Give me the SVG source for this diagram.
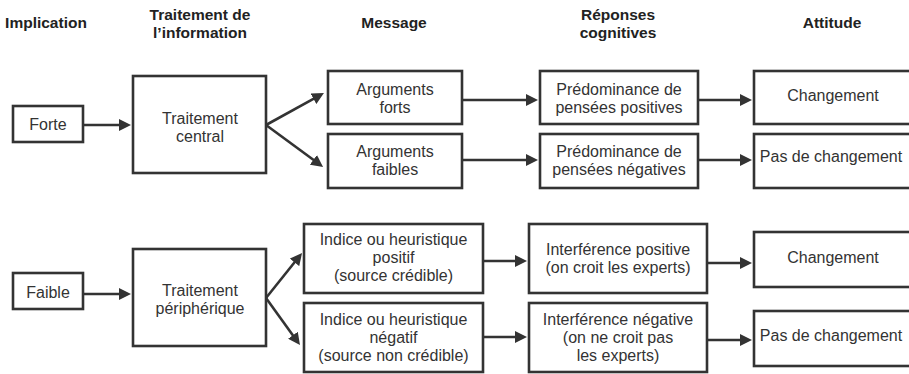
<svg xmlns="http://www.w3.org/2000/svg" width="909" height="374" viewBox="0 0 909 374">
<defs>
<style>
.box{fill:#fff;stroke:#333;stroke-width:2.6}
.t{font-family:"Liberation Sans",Arial,sans-serif;font-size:16px;fill:#333;text-anchor:middle}
.h{font-family:"Liberation Sans",Arial,sans-serif;font-size:15.5px;font-weight:bold;fill:#222;text-anchor:middle}
.c{stroke:#333;stroke-width:2.6;fill:none;marker-end:url(#ah)}
</style>
<marker id="ah" markerUnits="userSpaceOnUse" markerWidth="13" markerHeight="12" refX="2" refY="6" orient="auto">
<path d="M0,0 L12,6 L0,12 z" fill="#333"/>
</marker>
</defs>
<rect width="909" height="374" fill="#fff"/>
<g id="headers">
<text class="h" x="46" y="28">Implication</text>
<text class="h" x="200" y="20">Traitement de</text>
<text class="h" x="200" y="38">l’information</text>
<text class="h" x="394" y="28">Message</text>
<text class="h" x="618" y="20">Réponses</text>
<text class="h" x="618" y="38">cognitives</text>
<text class="h" x="832" y="28">Attitude</text>
</g>
<g id="connectors">
<line class="c" x1="83" y1="125" x2="121" y2="125"/>
<line class="c" x1="266" y1="125" x2="315.2" y2="97.8"/>
<line class="c" x1="266" y1="125" x2="315" y2="161"/>
<line class="c" x1="462" y1="100" x2="528" y2="100"/>
<line class="c" x1="462" y1="160" x2="528" y2="160"/>
<line class="c" x1="698" y1="100" x2="742" y2="100"/>
<line class="c" x1="698" y1="160" x2="742" y2="160"/>
<line class="c" x1="83" y1="294" x2="121" y2="294"/>
<line class="c" x1="266" y1="298" x2="295.8" y2="260.8"/>
<line class="c" x1="266" y1="298" x2="294.1" y2="336.9"/>
<line class="c" x1="483" y1="261" x2="517" y2="261"/>
<line class="c" x1="483" y1="337" x2="517" y2="337"/>
<line class="c" x1="707" y1="263" x2="742" y2="263"/>
<line class="c" x1="707" y1="340" x2="742" y2="340"/>
</g>
<g id="forte">
<rect class="box" x="13" y="106" width="70" height="36"/>
<text class="t" x="48" y="130">Forte</text>
</g>
<g id="traitement-central">
<rect class="box" x="133" y="76" width="133" height="97"/>
<text class="t" x="200" y="124">Traitement</text>
<text class="t" x="200" y="142">central</text>
</g>
<g id="arguments-forts">
<rect class="box" x="328" y="71" width="134" height="53"/>
<text class="t" x="395" y="95">Arguments</text>
<text class="t" x="395" y="113">forts</text>
</g>
<g id="arguments-faibles">
<rect class="box" x="328" y="134" width="134" height="54"/>
<text class="t" x="395" y="157">Arguments</text>
<text class="t" x="395" y="175">faibles</text>
</g>
<g id="predominance-positives">
<rect class="box" x="540" y="71" width="158" height="53"/>
<text class="t" x="619" y="95">Prédominance de</text>
<text class="t" x="619" y="113">pensées positives</text>
</g>
<g id="predominance-negatives">
<rect class="box" x="540" y="134" width="158" height="54"/>
<text class="t" x="619" y="157">Prédominance de</text>
<text class="t" x="619" y="175">pensées négatives</text>
</g>
<g id="changement-1">
<rect class="box" x="754" y="71" width="157" height="53"/>
<text class="t" x="833" y="101">Changement</text>
</g>
<g id="pas-changement-1">
<rect class="box" x="754" y="134" width="157" height="54"/>
<text class="t" x="831" y="162">Pas de changement</text>
</g>
<g id="faible">
<rect class="box" x="13" y="273" width="70" height="36"/>
<text class="t" x="48" y="298">Faible</text>
</g>
<g id="traitement-peripherique">
<rect class="box" x="133" y="249" width="133" height="97"/>
<text class="t" x="200" y="296">Traitement</text>
<text class="t" x="200" y="314">périphérique</text>
</g>
<g id="indice-positif">
<rect class="box" x="304" y="224" width="179" height="69"/>
<text class="t" x="393.5" y="245">Indice ou heuristique</text>
<text class="t" x="393.5" y="263">positif</text>
<text class="t" x="393.5" y="281">(source crédible)</text>
</g>
<g id="indice-negatif">
<rect class="box" x="304" y="303" width="179" height="69"/>
<text class="t" x="393.5" y="325">Indice ou heuristique</text>
<text class="t" x="393.5" y="343">négatif</text>
<text class="t" x="393.5" y="361">(source non crédible)</text>
</g>
<g id="interference-positive">
<rect class="box" x="529" y="224" width="178" height="69"/>
<text class="t" x="618" y="255">Interférence positive</text>
<text class="t" x="618" y="273">(on croit les experts)</text>
</g>
<g id="interference-negative">
<rect class="box" x="529" y="303" width="178" height="69"/>
<text class="t" x="618" y="325">Interférence négative</text>
<text class="t" x="618" y="343">(on ne croit pas</text>
<text class="t" x="618" y="361">les experts)</text>
</g>
<g id="changement-2">
<rect class="box" x="754" y="232" width="157" height="55"/>
<text class="t" x="833" y="263">Changement</text>
</g>
<g id="pas-changement-2">
<rect class="box" x="754" y="311" width="157" height="55"/>
<text class="t" x="831" y="341">Pas de changement</text>
</g>
</svg>
